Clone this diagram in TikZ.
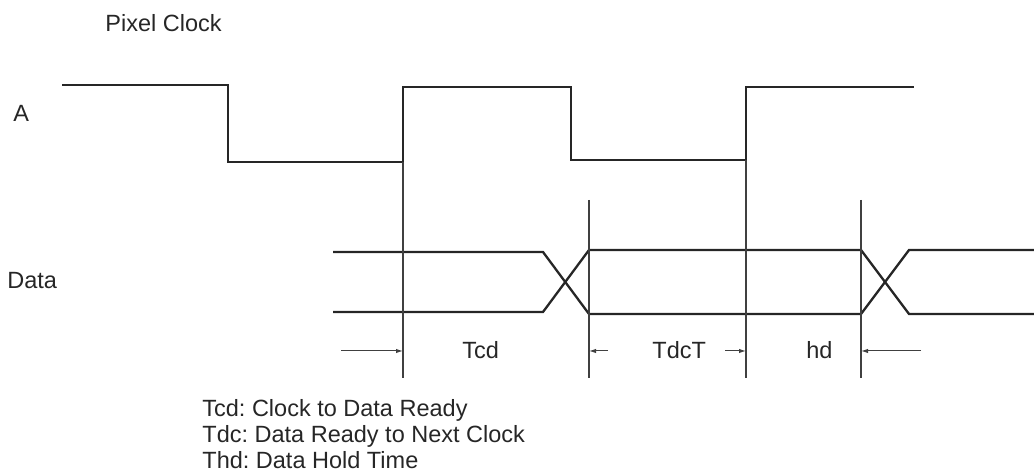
\documentclass[tikz,border=0pt]{standalone}
\usepackage{fontspec}
\setmainfont{Liberation Sans}
\usetikzlibrary{arrows.meta}
\frenchspacing

\begin{document}
\begin{tikzpicture}[
  x=0.5pt,y=-0.5pt,
  font=\fontsize{11.75}{14}\selectfont,
  txt/.style={anchor=base west,inner sep=0pt,text=black!85},
  clock/.style={line width=1.25pt,draw=black!85,line join=miter},
  bus/.style={line width=1.15pt,draw=black!85},
  guide/.style={line width=0.55pt,draw=black!75},
  dim/.style={-{Latex[length=3.5pt,width=2.2pt]},line width=0.5pt,draw=black!75},
]
\useasboundingbox (0,0) rectangle (1034,474);

% Edge positions (pixels of the reference): rising clock edges and data edges.
\def\eA{403} \def\eB{746}
\def\xA{589} \def\xB{861}
\def\yTop{200} \def\yBot{378} \def\yDim{351}

% ---------------- labels ----------------
\node[txt] (title) at (105,32)  {Pixel Clock};
\node[txt] (sigA)  at (13,122)  {A};
\node[txt] (sigD)  at (7,289)   {Data};
\node[txt] (tcd)   at (462,359) {Tcd};
\node[txt] (tdc)   at (652,359) {TdcT};
\node[txt] (thd)   at (806,359) {hd};
\node[txt] (leg1)  at (202,417) {Tcd: Clock to Data Ready};
\node[txt] (leg2)  at (202,443) {Tdc: Data Ready to Next Clock};
\node[txt] (leg3)  at (202,469) {Thd: Data Hold Time};

% ---------------- clock ----------------
\draw[clock] (62,85) -- (228,85) -- (228,162) -- (\eA,162) -- (\eA,87) -- (571,87)
  -- (571,160) -- (\eB,160) -- (\eB,87) -- (914,87);

% ---------------- data bus ----------------
\draw[bus] (333,252) -- (543,252) -- (\xA,314) -- (\xB,314) -- (909,250) -- (1034,250);
\draw[bus] (333,312) -- (543,312) -- (\xA,250) -- (\xB,250) -- (909,314) -- (1034,314);

% ---------------- guide lines ----------------
\coordinate (gA) at (\eA,\yBot);  \coordinate (gB) at (\eB,\yBot);
\coordinate (gC) at (\xA,\yBot);  \coordinate (gD) at (\xB,\yBot);
\draw[guide] (\eA,162) -- (gA);
\draw[guide] (\eB,160) -- (gB);
\draw[guide] (\xA,\yTop) -- (gC);
\draw[guide] (\xB,\yTop) -- (gD);

% ---------------- timing arrows ----------------
\foreach \s/\t in {341/\eA,608/\xA,725/\eB,921/\xB}{\draw[dim] (\s,\yDim) -- (\t,\yDim);}

\end{tikzpicture}
\end{document}
